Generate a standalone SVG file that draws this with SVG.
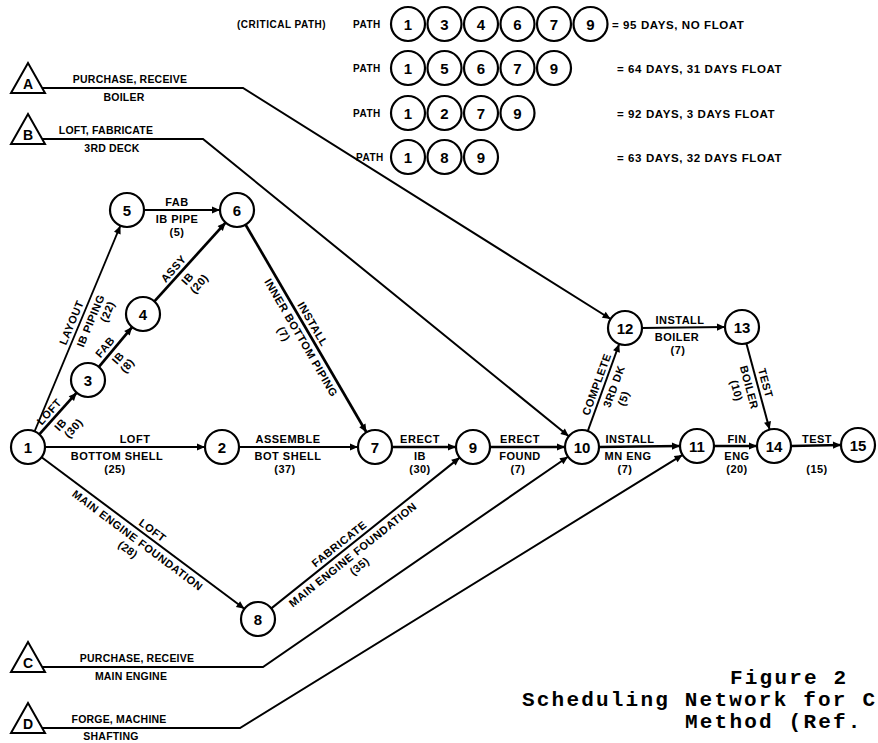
<svg xmlns="http://www.w3.org/2000/svg" width="878" height="743" viewBox="0 0 878 743">
<style>
.n circle{fill:#fff;stroke:#000;stroke-width:2.2}
.n text,.lg text.num{font-family:"Liberation Sans",Arial,sans-serif;font-weight:bold;font-size:15px;text-anchor:middle;dominant-baseline:central}
.e{stroke:#000;stroke-width:2;fill:none;marker-end:url(#ah)}
.ec{stroke-width:2.7}
.lb text{font-family:"Liberation Sans",Arial,sans-serif;font-weight:bold;font-size:11px;letter-spacing:0.5px;text-anchor:middle}
.ext text{font-family:"Liberation Sans",Arial,sans-serif;font-weight:bold;font-size:10.5px;letter-spacing:0.2px;text-anchor:middle}
.tri polygon{fill:#fff;stroke:#000;stroke-width:2}
.tri text.t{font-size:14px;letter-spacing:0}
.lg circle{fill:#fff;stroke:#000;stroke-width:2.2}
.lg text.p{font-family:"Liberation Sans",Arial,sans-serif;font-weight:bold;font-size:10px;letter-spacing:0.5px}
.lg text.d{font-family:"Liberation Sans",Arial,sans-serif;font-weight:bold;font-size:11.5px;letter-spacing:0.6px}
.cap{font-family:"Liberation Mono","Courier New",monospace;font-weight:bold;font-size:21px;letter-spacing:2.2px}
</style>
<defs>
<marker id="ah" viewBox="0 0 10 10" refX="10" refY="5" markerWidth="10" markerHeight="8" markerUnits="userSpaceOnUse" orient="auto">
<path d="M0,0.5 L10,5 L0,9.5 z" fill="#000"/>
</marker>
</defs>

<g id="legend" class="lg">
<text class="p" x="237" y="28">(CRITICAL PATH)</text>
<text class="p" x="353" y="28">PATH</text>
<circle cx="408" cy="24" r="17"/><text class="num" x="408" y="24">1</text>
<circle cx="444.5" cy="24" r="17"/><text class="num" x="444.5" y="24">3</text>
<circle cx="481" cy="24" r="17"/><text class="num" x="481" y="24">4</text>
<circle cx="517.5" cy="24" r="17"/><text class="num" x="517.5" y="24">6</text>
<circle cx="554" cy="24" r="17"/><text class="num" x="554" y="24">7</text>
<circle cx="590.5" cy="24" r="17"/><text class="num" x="590.5" y="24">9</text>
<text class="d" x="612" y="29">= 95 DAYS, NO FLOAT</text>

<text class="p" x="353" y="72">PATH</text>
<circle cx="408" cy="68" r="17"/><text class="num" x="408" y="68">1</text>
<circle cx="444.5" cy="68" r="17"/><text class="num" x="444.5" y="68">5</text>
<circle cx="481" cy="68" r="17"/><text class="num" x="481" y="68">6</text>
<circle cx="517.5" cy="68" r="17"/><text class="num" x="517.5" y="68">7</text>
<circle cx="554" cy="68" r="17"/><text class="num" x="554" y="68">9</text>
<text class="d" x="617" y="73">= 64 DAYS, 31 DAYS FLOAT</text>

<text class="p" x="353" y="117">PATH</text>
<circle cx="408" cy="113" r="17"/><text class="num" x="408" y="113">1</text>
<circle cx="444.5" cy="113" r="17"/><text class="num" x="444.5" y="113">2</text>
<circle cx="481" cy="113" r="17"/><text class="num" x="481" y="113">7</text>
<circle cx="517.5" cy="113" r="17"/><text class="num" x="517.5" y="113">9</text>
<text class="d" x="617" y="118">= 92 DAYS, 3 DAYS FLOAT</text>

<text class="p" x="356" y="161">PATH</text>
<circle cx="408" cy="157" r="17"/><text class="num" x="408" y="157">1</text>
<circle cx="444.5" cy="157" r="17"/><text class="num" x="444.5" y="157">8</text>
<circle cx="481" cy="157" r="17"/><text class="num" x="481" y="157">9</text>
<text class="d" x="617" y="162">= 63 DAYS, 32 DAYS FLOAT</text>
</g>

<g id="connectors">
<path class="e ec" d="M39.3,434.3 L76.7,392.7"/>
<path class="e ec" d="M98.9,366.9 L132.1,327.1"/>
<path class="e ec" d="M154.4,301.4 L225.6,222.6"/>
<path class="e" style="stroke-width:1.8" d="M34.6,431.3 L120.4,225.7"/>
<path class="e" d="M144,210 L220,210"/>
<path class="e ec" d="M245.6,224.7 L366.4,432.3"/>
<path class="e" style="stroke-width:1.8" d="M45,447 L205,447"/>
<path class="e" d="M239,447 L358,447"/>
<path class="e ec" d="M392,447 L456,447"/>
<path class="e" d="M41.6,457.2 L244.4,608.8"/>
<path class="e" d="M271.3,608.4 L459.7,457.6"/>
<path class="e ec" d="M490,447 L565,447"/>
<path class="e ec" d="M599,447 L680,446"/>
<path class="e" d="M587.8,431 L619.2,344"/>
<path class="e" d="M642,328 L725,327"/>
<path class="e" d="M746.4,343.4 L769.6,429.6"/>
<path class="e ec" d="M714,446 L757,446"/>
<path class="e ec" d="M791,446 L841,445"/>
<path class="e" d="M41,88 L243,88 L610.6,319"/>
<path class="e" d="M41,139 L203,139 L568.8,436.3"/>
<path class="e" d="M41,667 L263,667 L568,456.7"/>
<path class="e" d="M41,728 L240,728 L682.5,454.9"/>
</g>

<g id="labels" class="lb">
<g transform="translate(55,417) rotate(-48)"><text x="0" y="-4">LOFT</text><text x="-2" y="13">IB</text><text x="4" y="25">(30)</text></g>
<g transform="translate(111,352) rotate(-50)"><text x="0" y="-4">FAB</text><text x="0" y="13">IB</text><text x="0" y="25">(8)</text></g>
<g transform="translate(182,271) rotate(-48)"><text x="-4" y="-4">ASSY</text><text x="-2" y="13">IB</text><text x="2" y="25">(20)</text></g>
<g transform="translate(81,320) rotate(-67.3)"><text x="-6" y="-4">LAYOUT</text><text x="3" y="13">IB PIPING</text><text x="18" y="25">(22)</text></g>
<g transform="translate(306,328) rotate(59.8)"><text x="0" y="-4">INSTALL</text><text x="6" y="13">INNER BOTTOM PIPING</text><text x="-6" y="26">(7)</text></g>
<g transform="translate(143,533) rotate(36.8)"><text x="6" y="-4">LOFT</text><text x="0" y="13">MAIN ENGINE FOUNDATION</text><text x="-2" y="26">(28)</text></g>
<g transform="translate(344,550) rotate(-38.7)"><text x="0" y="-4">FABRICATE</text><text x="4" y="13">MAIN ENGINE FOUNDATION</text><text x="2" y="26">(35)</text></g>
<g transform="translate(604,387) rotate(-70)"><text x="0" y="-4">COMPLETE</text><text x="4" y="13">3RD DK</text><text x="-4" y="26">(5)</text></g>
<g transform="translate(758,385) rotate(75)"><text x="0" y="-4">TEST</text><text x="0" y="13">BOILER</text><text x="0" y="26">(10)</text></g>
<text x="177" y="206">FAB</text><text x="177" y="223">IB PIPE</text><text x="177" y="236">(5)</text>
<text x="135" y="443">LOFT</text><text x="117" y="460">BOTTOM SHELL</text><text x="115" y="473">(25)</text>
<text x="288" y="443">ASSEMBLE</text><text x="288" y="460">BOT SHELL</text><text x="285" y="473">(37)</text>
<text x="420" y="443">ERECT</text><text x="420" y="460">IB</text><text x="420" y="473">(30)</text>
<text x="520" y="443">ERECT</text><text x="520" y="460">FOUND</text><text x="518" y="473">(7)</text>
<text x="630" y="443">INSTALL</text><text x="628" y="460">MN ENG</text><text x="625" y="473">(7)</text>
<text x="737" y="443">FIN</text><text x="737" y="460">ENG</text><text x="737" y="473">(20)</text>
<text x="817" y="443">TEST</text><text x="817" y="473">(15)</text>
<text x="680" y="324">INSTALL</text><text x="677" y="341">BOILER</text><text x="678" y="354">(7)</text>
</g>

<g id="A" class="tri ext"><polygon points="11,93 28,63 45,93"/><text class="t" x="28" y="89">A</text><text x="130" y="83">PURCHASE, RECEIVE</text><text x="124" y="101">BOILER</text></g>
<g id="B" class="tri ext"><polygon points="11,144 28,114 45,144"/><text class="t" x="28" y="140">B</text><text x="106" y="134">LOFT, FABRICATE</text><text x="112" y="152">3RD DECK</text></g>
<g id="C" class="tri ext"><polygon points="11,672 28,642 45,672"/><text class="t" x="28" y="668">C</text><text x="137" y="662">PURCHASE, RECEIVE</text><text x="131" y="680">MAIN ENGINE</text></g>
<g id="D" class="tri ext"><polygon points="11,733 28,703 45,733"/><text class="t" x="28" y="729">D</text><text x="119" y="723">FORGE, MACHINE</text><text x="111" y="740">SHAFTING</text></g>

<g id="n1" class="n"><circle cx="28" cy="447" r="17"/><text x="28" y="447">1</text></g>
<g id="n2" class="n"><circle cx="222" cy="447" r="17"/><text x="222" y="447">2</text></g>
<g id="n3" class="n"><circle cx="88" cy="380" r="17"/><text x="88" y="380">3</text></g>
<g id="n4" class="n"><circle cx="143" cy="314" r="17"/><text x="143" y="314">4</text></g>
<g id="n5" class="n"><circle cx="127" cy="210" r="17"/><text x="127" y="210">5</text></g>
<g id="n6" class="n"><circle cx="237" cy="210" r="17"/><text x="237" y="210">6</text></g>
<g id="n7" class="n"><circle cx="375" cy="447" r="17"/><text x="375" y="447">7</text></g>
<g id="n8" class="n"><circle cx="258" cy="619" r="17"/><text x="258" y="619">8</text></g>
<g id="n9" class="n"><circle cx="473" cy="447" r="17"/><text x="473" y="447">9</text></g>
<g id="n10" class="n"><circle cx="582" cy="447" r="17"/><text x="582" y="447">10</text></g>
<g id="n11" class="n"><circle cx="697" cy="446" r="17"/><text x="697" y="446">11</text></g>
<g id="n12" class="n"><circle cx="625" cy="328" r="17"/><text x="625" y="328">12</text></g>
<g id="n13" class="n"><circle cx="742" cy="327" r="17"/><text x="742" y="327">13</text></g>
<g id="n14" class="n"><circle cx="774" cy="446" r="17"/><text x="774" y="446">14</text></g>
<g id="n15" class="n"><circle cx="858" cy="445" r="17"/><text x="858" y="445">15</text></g>

<g id="caption">
<text class="cap" x="730" y="684">Figure 2</text>
<text class="cap" x="522" y="706">Scheduling Network for C</text>
<text class="cap" x="685" y="728">Method (Ref.</text>
</g>
</svg>
